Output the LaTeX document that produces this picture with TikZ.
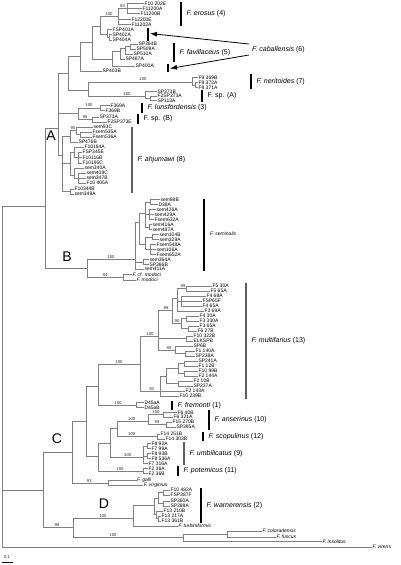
\documentclass[tikz,border=0pt]{standalone}
\usepackage{fontspec}
\setmainfont{Liberation Sans}
\usetikzlibrary{arrows.meta}
\definecolor{brc}{RGB}{128,128,128}
\definecolor{bargrey}{RGB}{95,95,95}
\tikzset{
 br/.style={draw=brc, line width=0.55pt},
 lf/.style={anchor=west, inner sep=0.3pt, font=\fontsize{5}{5}\selectfont},
 bs/.style={inner sep=0pt, text=black!85, font=\fontsize{4.2}{4.2}\selectfont},
 sp/.style={anchor=west, inner sep=0pt, font=\fontsize{7}{8}\selectfont},
 spsmall/.style={anchor=west, inner sep=0pt, font=\fontsize{5}{6}\selectfont},
 spbar/.style={draw=black, line width=1.1pt},
 spbarg/.style={draw=bargrey, line width=1.1pt},
 clet/.style={font=\fontsize{14}{14}\selectfont, inner sep=0pt},
 arr/.style={draw=black, line width=0.8pt, -{Latex[length=7pt,width=5pt]}},
}
\newcommand{\mknode}[4]{\coordinate (#1) at (#3,#4); \draw[br] (#2) |- (#1);}
\newcommand{\mkleaf}[5]{\node[lf] (#1) at (#3,#4) {#5}; \draw[br] (#2) |- (#1.west);}
\newcommand{\mkbar}[6]{\coordinate (#1T) at (#2,#3); \coordinate (#1B) at (#2,#4); \draw[#5] (#1T) -- (#1B); \node[sp] (#1L) at (#2+5.5,{(#3+#4)/2}) {#6};}
\begin{document}
\begin{tikzpicture}[x=1pt,y=-1pt]
\useasboundingbox (0,0) rectangle (400,565);
\coordinate (root) at (2,206);
% ---------- A + B ----------
\mknode{AB}{root}{45}{206}
\mknode{An}{AB}{58}{128}
\mknode{Kup}{An}{68}{73}
\mknode{Ker}{Kup}{80}{56}
\mknode{Ker1}{Ker}{92}{42}
\mkleaf{l11}{Ker}{102}{71}{SP403B}
\mknode{Ke}{Ker1}{100}{26}
\mknode{Kf}{Ker1}{112}{59}
\mknode{E}{Ke}{118}{16}
\mknode{Ea}{E}{127}{8.5}
\mkleaf{l1}{Ea}{144}{3.5}{F10 202E}
\mkleaf{l2}{Ea}{142}{8.5}{F11200A}
\mkleaf{l3}{Ea}{140}{13.5}{F11200B}
\mkleaf{l4}{E}{131}{19.5}{F12200E}
\mkleaf{l5}{E}{131}{24.5}{F11202A}
\mknode{Cab}{Ke}{107}{34}
\mkleaf{l6}{Cab}{112}{29.5}{FSP401A}
\mknode{Cab2}{Cab}{109}{37.25}
\mkleaf{l7}{Cab2}{112}{34.75}{SP402A}
\mkleaf{l8}{Cab2}{112}{40}{SP404A}
\mknode{Kf1}{Kf}{120}{51}
\mkleaf{l9}{Kf}{135}{66}{SP400A}
\mknode{Kf2}{Kf1}{125}{48}
\mkleaf{l10}{Kf1}{125}{59}{SP487A}
\mknode{Kf3}{Kf2}{130}{46.5}
\mkleaf{l12}{Kf2}{133}{54}{SP510A}
\mkleaf{l13}{Kf3}{138}{44}{SP364B}
\mkleaf{l14}{Kf3}{136}{49}{SP509A}
\mknode{Kner}{Kup}{88}{90}
\mknode{Ner}{Kner}{192}{82}
\mkleaf{l15}{Ner}{198}{77.5}{F9 369B}
\mknode{Ner2}{Ner}{195}{85}
\mkleaf{l16}{Ner2}{198}{82.5}{F9 372A}
\mkleaf{l17}{Ner2}{198}{87.5}{F9 371A}
\mknode{SpA}{Kner}{145}{96}
\mkleaf{l18}{SpA}{157}{91.5}{SP373B}
\mknode{SpA2}{SpA}{150}{98.25}
\mkleaf{l19}{SpA2}{157}{96}{F2SP373A}
\mkleaf{l20}{SpA2}{157}{100.5}{SP113A}
\mknode{Kls}{An}{78}{113}
\mknode{Lun}{Kls}{100}{108}
\mkleaf{l21}{Lun}{110}{105.5}{F369A}
\mkleaf{l22}{Lun}{105}{110.5}{F369B}
\mknode{SpB}{Kls}{92}{119.5}
\mkleaf{l23}{SpB}{99}{117}{SP373A}
\mkleaf{l24}{SpB}{107}{122}{F2SP373E}
\mknode{Kahj}{An}{62}{155}
\mknode{Ka1}{Kahj}{70}{136}
\mknode{Ka1s}{Ka1}{76}{130}
\mkleaf{l25}{Ka1s}{93}{127}{sem93C}
\mknode{Ka1t}{Ka1s}{80}{134.5}
\mkleaf{l26}{Ka1t}{92}{132}{Fsem535A}
\mkleaf{l27}{Ka1t}{92}{137}{Fsem536A}
\mkleaf{l28}{Ka1}{78}{142}{SP476B}
\mknode{Ka3}{Kahj}{70}{163}
\mknode{Ka5}{Ka3}{74}{152}
\mkleaf{l29}{Ka5}{84}{147}{F10184A}
\mknode{Ka5b}{Ka5}{78}{157.5}
\mkleaf{l30}{Ka5b}{82}{152}{FSP345E}
\mkleaf{l31}{Ka5b}{82}{157.5}{F10116B}
\mkleaf{l32}{Ka5b}{82}{163}{F10195C}
\mknode{Ka6}{Ka3}{74}{175}
\mkleaf{l33}{Ka6}{84}{168}{sem340A}
\mknode{Ka6b}{Ka6}{78}{178}
\mkleaf{l34}{Ka6b}{86}{173}{sem408C}
\mkleaf{l35}{Ka6b}{86}{178}{sem347B}
\mkleaf{l36}{Ka6b}{86}{183}{F10 405A}
\mknode{Ka4}{Kahj}{70}{191.5}
\mkleaf{l37}{Ka4}{74}{189}{F10344B}
\mkleaf{l38}{Ka4}{74}{194}{sem349A}
% B
\mknode{Bn}{AB}{87}{268}
\mknode{Bsem}{Bn}{135}{259}
\mknode{Bmod}{Bn}{123}{277}
\mkleaf{l39}{Bmod}{132}{274.5}{\textit{F. cf. modoci}}
\mkleaf{l40}{Bmod}{136}{280}{\textit{F. modoci}}
\mknode{Bs1}{Bsem}{139}{222}
\mknode{Bs2}{Bsem}{143}{262}
\mkleaf{l41}{Bsem}{144}{269}{sem411A}
\mknode{Bs3}{Bs1}{145}{213}
\mknode{Bs4}{Bs1}{145}{244}
\mknode{Bs5}{Bs3}{150}{202}
\mknode{Bs6}{Bs3}{149}{214.5}
\mknode{Bs7}{Bs3}{149}{227}
\mkleaf{l42}{Bs5}{160}{199.5}{sem98B}
\mkleaf{l43}{Bs5}{158}{204.5}{D38A}
\mkleaf{l44}{Bs6}{156}{209.5}{sem426A}
\mkleaf{l45}{Bs6}{154}{214.5}{sem429A}
\mkleaf{l46}{Bs6}{154}{219.5}{Fsem632A}
\mkleaf{l47}{Bs7}{152}{224.5}{sem416A}
\mkleaf{l48}{Bs7}{152}{229.5}{sem487A}
\mknode{Bs8}{Bs4}{152}{237}
\mknode{Bs9}{Bs4}{150}{249.5}
\mkleaf{l49}{Bs8}{159}{234.5}{sem104B}
\mkleaf{l50}{Bs8}{159}{239.5}{sem329A}
\mkleaf{l51}{Bs9}{156}{244.5}{Fsem548A}
\mkleaf{l52}{Bs9}{156}{249.5}{sem106A}
\mkleaf{l53}{Bs9}{156}{254.5}{Fsem652A}
\mkleaf{l54}{Bs2}{149}{259.5}{sem364A}
\mkleaf{l55}{Bs2}{149}{264.5}{SP366B}
% ---------- C + D ----------
\mknode{CD}{root}{43}{490}
\mknode{Cn}{CD}{72.7}{452.7}
\mknode{K1}{Cn}{86.7}{421.7}
\mknode{K2}{K1}{98.3}{386.7}
\mknode{M0}{K2}{140}{364}
\mknode{Fr}{K2}{136}{405}
\mkleaf{l56}{Fr}{144}{402.7}{D45aA}
\mkleaf{l57}{Fr}{144}{407.7}{D45aB}
\mknode{Kb}{K1}{98.3}{456.7}
\mknode{K3}{Kb}{110}{443}
\mknode{Pot}{Kb}{143.3}{471.7}
\mkleaf{l58}{Pot}{148}{468.3}{F2 36A}
\mkleaf{l59}{Pot}{148}{473.3}{F2 36B}
\mknode{K4}{K3}{117.3}{428}
\mknode{Umb}{K3}{143.3}{457.3}
\mknode{Ans}{K4}{148.3}{421}
\mknode{Sc}{K4}{157}{436.7}
\mknode{Na1}{Ans}{163}{414.5}
\mknode{Na2}{Ans}{166}{424.5}
\mkleaf{l60}{Na1}{177}{412.3}{F6 40B}
\mkleaf{l61}{Na1}{173}{417}{F6 321A}
\mkleaf{l62}{Na2}{172}{422.2}{F15 270B}
\mkleaf{l63}{Na2}{176}{427}{SP395A}
\mkleaf{l64}{Sc}{160}{434.2}{F14 251B}
\mkleaf{l65}{Sc}{165}{439.2}{F14 303B}
\mknode{U1}{Umb}{147}{445.8}
\mknode{U2}{Umb}{147}{455.8}
\mkleaf{l66}{U1}{151}{443.3}{F8 92A}
\mkleaf{l67}{U1}{151}{448.3}{F7 99A}
\mkleaf{l68}{U2}{151}{453.3}{F8 93B}
\mkleaf{l69}{U2}{151}{458.3}{F8 536A}
\mkleaf{l70}{Umb}{148}{463.3}{F7 316A}
\mknode{GV}{Cn}{108.3}{483.3}
\mkleaf{l71}{GV}{136.7}{480.7}{\textit{F. galli}}
\mkleaf{l72}{GV}{143.3}{485.7}{\textit{F. virginius}}
% multifarius
\mknode{M1}{M0}{158}{336}
\mknode{M2}{M0}{160}{391}
\mknode{M8}{M1}{172}{310}
\mknode{M16}{M1}{186}{338.5}
\mknode{M9}{M1}{175}{350}
\mknode{M10}{M8}{177}{298}
\mknode{M11}{M8}{181}{323.5}
\mknode{M12}{M10}{186}{288.5}
\mknode{M13}{M10}{181}{301}
\mkleaf{l73}{M12}{212}{286}{F5 30A}
\mkleaf{l74}{M12}{210}{291}{F5 65A}
\mkleaf{l75}{M13}{206}{296}{F4 68A}
\mkleaf{l76}{M13}{202}{301}{FSP65F}
\mkleaf{l77}{M13}{202}{306}{F4 65A}
\mkleaf{l78}{M10}{204}{311}{F3 69A}
\mknode{M14}{M11}{186}{318.5}
\mknode{M15}{M11}{188}{328.5}
\mkleaf{l79}{M14}{199}{316}{F4 30A}
\mkleaf{l80}{M14}{199}{321}{F3 330A}
\mkleaf{l81}{M15}{199}{326}{F3 65A}
\mkleaf{l82}{M15}{197}{331}{F6 27B}
\mkleaf{l83}{M16}{193}{336}{F10 322B}
\mkleaf{l84}{M16}{193}{341}{ELKSPB}
\mkleaf{l85}{M9}{193}{346}{SP6B}
\mknode{M17}{M9}{185}{353.5}
\mkleaf{l86}{M17}{195}{351}{F1 140A}
\mkleaf{l87}{M17}{195}{356}{SP238A}
\mknode{M5}{M2}{166}{376}
\mkleaf{l88}{M2}{185}{391}{F2 143A}
\mkleaf{l89}{M2}{179}{396}{F10 239B}
\mknode{M6}{M5}{178}{368.5}
\mknode{M7}{M5}{178}{383.5}
\mknode{M6a}{M6}{184}{363.5}
\mknode{M6b}{M6}{184}{373.5}
\mkleaf{l90}{M6a}{198}{361}{SP241A}
\mkleaf{l91}{M6a}{198}{366}{F1 12B}
\mkleaf{l92}{M6b}{198}{371}{F10 99B}
\mkleaf{l93}{M6b}{198}{376}{F2 144A}
\mkleaf{l94}{M7}{193}{381}{F2 10B}
\mkleaf{l95}{M7}{193}{386}{SP237A}
% D and outgroups
\mknode{Dp}{CD}{73}{527}
\mknode{Dn}{Dp}{133}{518}
\mknode{Out}{Dp}{183}{537}
\mknode{Dcl}{Dn}{154}{505}
\mkleaf{l96}{Dn}{178}{526}{\textit{F. turbiniformis}}
\mknode{Dc1}{Dcl}{158}{498}
\mknode{Dc2}{Dcl}{156}{514}
\mknode{Dc1a}{Dc1}{163}{492.5}
\mknode{Dc1b}{Dc1}{163}{503.5}
\mkleaf{l97}{Dc1a}{170}{490}{F10 482A}
\mkleaf{l98}{Dc1a}{170}{495}{FSP387F}
\mkleaf{l99}{Dc1b}{170}{501}{SP360A}
\mkleaf{l100}{Dc1b}{170}{506}{SP388A}
\mkleaf{l101}{Dc2}{163}{511}{F13 210B}
\mknode{Dc2b}{Dc2}{158}{518.5}
\mkleaf{l102}{Dc2b}{161}{516}{F13 217A}
\mkleaf{l103}{Dc2b}{161}{521}{F13 361B}
\mknode{Cf}{Out}{227}{534}
\mkleaf{l104}{Cf}{262}{531}{\textit{F. coloradensis}}
\mkleaf{l105}{Cf}{276}{537}{\textit{F. fuscus}}
\mkleaf{l106}{Out}{322}{541.5}{\textit{F. insolitus}}
\mkleaf{l107}{root}{372}{547}{\textit{F. virens}}
% ---------- bootstrap values ----------
\node[bs] (b1) at (122.5,5.8) {94};
\node[bs] (b2) at (109,13.6) {100};
\node[bs] (b3) at (143,79.5) {100};
\node[bs] (b4) at (127,93.6) {100};
\node[bs] (b5) at (89,105.5) {100};
\node[bs] (b6) at (85,117) {99};
\node[bs] (b7) at (73,127.6) {95};
\node[bs] (b8) at (111,256.6) {100};
\node[bs] (b9) at (105,274.6) {94};
\node[bs] (b10) at (183,285.8) {99};
\node[bs] (b11) at (166,307.6) {98};
\node[bs] (b12) at (177,321) {90};
\node[bs] (b13) at (150,333.6) {100};
\node[bs] (b14) at (169,347.6) {99};
\node[bs] (b15) at (119,361.6) {100};
\node[bs] (b16) at (151.7,388.6) {94};
\node[bs] (b17) at (118,402.6) {100};
\node[bs] (b27) at (156,412.2) {100};
\node[bs] (b18) at (131.7,418.6) {100};
\node[bs] (b19) at (157,422.2) {99};
\node[bs] (b20) at (131.7,434.3) {100};
\node[bs] (b21) at (127.7,455) {100};
\node[bs] (b22) at (120,469.4) {100};
\node[bs] (b23) at (89.3,481) {91};
\node[bs] (b24) at (103,515.6) {100};
\node[bs] (b25) at (57,524.6) {98};
\node[bs] (b26) at (113,534.6) {100};
% ---------- clade letters ----------
\node[clet] (cA) at (51,136) {A};
\node[clet] (cB) at (67,257) {B};
\node[clet] (cC) at (57,439) {C};
\node[clet] (cD) at (104,504) {D};
% ---------- species bars ----------
\mkbar{er}{181}{2}{26}{spbar}{\textit{F. erosus} (4)}
\mkbar{fa}{174}{43}{62}{spbar}{\textit{F. favillaceus} (5)}
\mkbar{ne}{251}{74}{89}{spbar}{\textit{F. neritoides} (7)}
\mkbar{sa}{202}{90}{102}{spbar}{F. sp. (A)}
\mkbar{lu}{142}{103}{113}{spbar}{\textit{F. lunsfordensis} (3)}
\mkbar{sb}{138}{114}{124}{spbar}{F. sp. (B)}
\mkbar{ah}{132}{127}{193}{spbarg}{\textit{F. ahjumawi} (8)}
\mkbar{mu}{246}{283}{399}{spbarg}{\textit{F. multifarius} (13)}
\mkbar{fr}{172}{401}{410}{spbar}{\textit{F. fremonti} (1)}
\mkbar{an}{209}{410}{430}{spbar}{\textit{F. anserinus} (10)}
\mkbar{sc}{203}{432}{441}{spbar}{\textit{F. scopulinus} (12)}
\mkbar{um}{184}{442}{465}{spbarg}{\textit{F. umbilicatus} (9)}
\mkbar{po}{178}{466}{476}{spbar}{\textit{F. potemicus} (11)}
\mkbar{wa}{201}{488}{523}{spbar}{\textit{F. warnerensis} (2)}
\coordinate (seT) at (204,199); \coordinate (seB) at (204,271);
\draw[spbar] (seT) -- (seB);
\node[spsmall] (seL) at (210,234) {\textit{F. seminalis}};
% caballensis
\coordinate (cb1T) at (148,28); \coordinate (cb1B) at (148,41);
\draw[spbar] (cb1T) -- (cb1B);
\coordinate (cb2T) at (168,64); \coordinate (cb2B) at (168,72);
\draw[spbar] (cb2T) -- (cb2B);
\node[sp] (cbL) at (252,49.5) {\textit{F. caballensis} (6)};
\coordinate (cbA) at (249,44); \coordinate (cbB) at (249,55);
\coordinate (cbt1) at (150,33.5); \coordinate (cbt2) at (170,68.5);
\draw[arr] (cbA) -- (cbt1);
\draw[arr] (cbB) -- (cbt2);
% scale bar
\coordinate (s1) at (2,562); \coordinate (s2) at (13,562);
\draw[black, line width=0.5pt] (s1) -- (s2);
\node[bs] (sL) at (7,557.5) {0.1};
\end{tikzpicture}
\end{document}
